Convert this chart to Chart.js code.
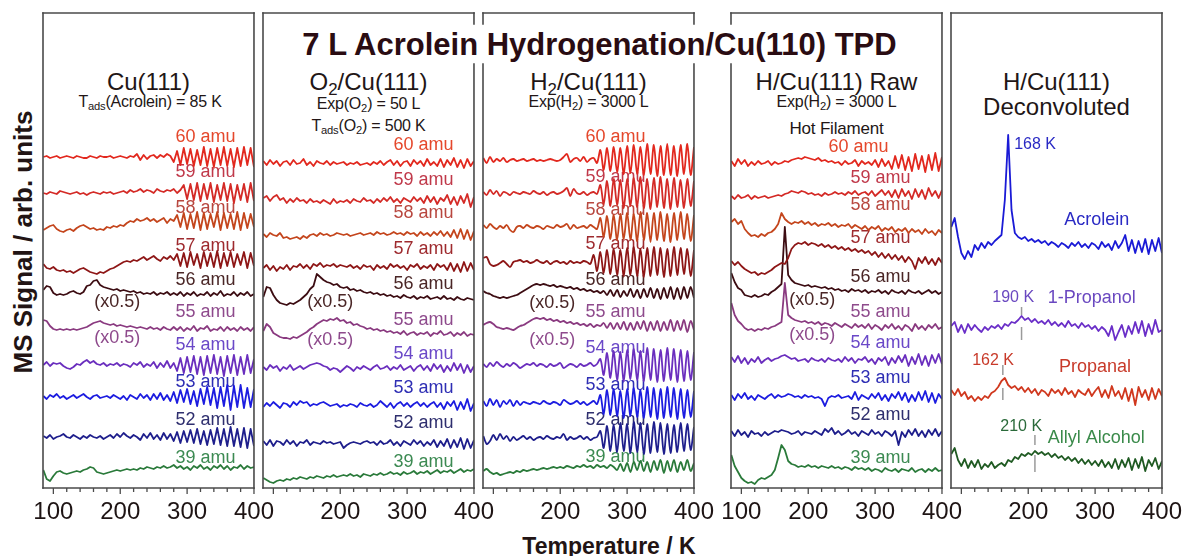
<!DOCTYPE html>
<html><head><meta charset="utf-8">
<script src="https://cdn.jsdelivr.net/npm/chart.js@4.4.1/dist/chart.umd.min.js"></script>
<style>
html,body{margin:0;padding:0;background:#fff;}
body{width:1182px;height:556px;position:relative;overflow:hidden;font-family:"Liberation Sans",Arial,Helvetica,sans-serif;color:#221616;}
canvas{position:absolute;top:0;}
.t{position:absolute;white-space:nowrap;transform:translateX(-50%);line-height:1;}
.pt{font-size:24px;}
.st{font-size:16px;letter-spacing:-0.2px;}
sub{font-size:0.7em;vertical-align:-0.3em;line-height:0;}
#title{font-weight:bold;font-size:31px;color:#2a0c12;}
#xlab{font-weight:bold;font-size:23px;color:#221414;}
#ylab{position:absolute;width:340px;left:-147px;top:229px;text-align:center;font-weight:bold;font-size:26px;line-height:26px;transform:rotate(-90deg);color:#221414;white-space:nowrap;}
</style></head>
<body>
<div class="t" id="title" style="left:599.5px;top:28.5px">7 L Acrolein Hydrogenation/Cu(110) TPD</div>
<div id="ylab">MS Signal / arb. units</div>
<div class="t" id="xlab" style="left:609px;top:534.5px">Temperature / K</div>

<div class="t pt" style="left:148.5px;top:70px">Cu(111)</div>
<div class="t st" style="left:150px;top:94px">T<sub>ads</sub>(Acrolein) = 85 K</div>
<div class="t pt" style="left:368.5px;top:70px">O<sub>2</sub>/Cu(111)</div>
<div class="t st" style="left:368.5px;top:96px">Exp(O<sub>2</sub>) = 50 L</div>
<div class="t st" style="left:368.5px;top:118px">T<sub>ads</sub>(O<sub>2</sub>) = 500 K</div>
<div class="t pt" style="left:588.5px;top:70px">H<sub>2</sub>/Cu(111)</div>
<div class="t st" style="left:588.5px;top:94px">Exp(H<sub>2</sub>) = 3000 L</div>
<div class="t pt" style="left:836.5px;top:70px">H/Cu(111) Raw</div>
<div class="t st" style="left:836.5px;top:94px">Exp(H<sub>2</sub>) = 3000 L</div>
<div class="t st" style="left:836.5px;top:119.5px;font-size:17px">Hot Filament</div>
<div class="t pt" style="left:1056.5px;top:70px">H/Cu(111)</div>
<div class="t pt" style="left:1056.5px;top:95px">Deconvoluted</div>

<canvas id="c0" width="271" height="530"></canvas>
<canvas id="c1" width="271" height="530"></canvas>
<canvas id="c2" width="271" height="530"></canvas>
<canvas id="c3" width="271" height="530"></canvas>
<canvas id="c4" width="271" height="530"></canvas>

<script>
// ---------------- DATA ----------------
const temps = [85,90,95,100,105,110,115,120,125,130,135,140,145,150,155,160,165,170,175,180,185,190,195,200,205,210,215,220,225,230,235,240,245,250,255,260,265,270,275,280,285,290,295,300,305,310,315,320,325,330,335,340,345,350,355,360,365,370,375,380,385,390,395,400];
const massLabels = ['60 amu','59 amu','58 amu','57 amu','56 amu','55 amu','54 amu','53 amu','52 amu','39 amu'];
const scaleNote = '(x0.5)';

// Cu(111)
const p1Base = [331,295,258,220,195,160,123,91,51,15];
const p1_60 = [0,1,-1,0,1,-1,0,1, 0,-1,1,0,-1,-1,1,0, -1,1,0,0,1,-1,0,1, 0,-1,1,0,3,-3,2,-2, 1,2,-1,2,0,3,1,-5, 6,-8,9,-7,8,-9,7,-8, 10,-9,8,-10,9,-8,10,-9, 8,-10,9,-9,10,-8,9,-10];
const p1_59 = [0,-1,1,0,-1,2,1,0, -1,0,1,-1,0,-2,0,1, 0,-1,1,0,1,-1,0,1, 2,0,3,1,2,4,1,3, 2,0,4,2,1,3,2,4, 0,3,8,-6,9,-7,10,-8, 9,-6,10,-9,8,-7,10,-8, 9,-10,8,-7,9,-9,10,-8];
const p1_58 = [0,2,4,5,1,-1,-2,0, 1,-1,2,4,5,3,1,2, 0,1,0,3,2,4,3,5, 4,7,9,8,11,9,10,12, 9,11,8,10,12,7,11,9, 15,3,17,1,16,2,18,0, 17,1,16,3,18,0,17,2, 16,1,18,0,17,2,16,3];
const p1_57 = [4,0,-1,1,-2,-3,-2,-4, -3,-5,-3,-1,0,-2,-4,-5, -6,-4,-5,-3,-1,0,2,4, 6,7,6,8,7,9,11,8, 10,12,9,7,11,9,12,8, 14,2,15,1,16,3,14,0, 16,2,15,1,17,0,15,2, 16,1,14,3,16,0,15,2];
const p1_56 = [3,7,6,0,-2,-1,-2,-1, 1,2,0,-1,1,7,8,12, 13,8,6,5,4,3,4,2, 3,2,1,2,0,1,-1,0, -1,1,-2,0,-1,1,-2,0, -2,1,-3,0,-2,1,-3,-1, -2,1,-3,0,-2,2,-3,-1, -2,1,-3,0,-2,1,-3,-1];
const p1_55 = [8,7,2,-1,-2,-1,-2,-1, -2,-1,-2,-1,0,1,3,5, 6,7,5,4,3,4,2,3, 2,1,2,1,0,1,0,-1, 1,-1,0,-2,1,-1,-2,1, -2,1,-3,0,-2,2,-3,0, -1,2,-3,-1,-2,1,-3,1, -2,0,-3,1,-2,0,-3,1];
const p1_54 = [0,3,-1,2,1,2,-1,-3, -4,-2,1,0,3,5,2,4, 1,0,2,-1,1,0,2,-1, 1,0,-2,2,0,3,-2,1, -1,3,-3,2,-2,4,-3,2, -6,7,-8,8,-7,9,-9,8, -10,9,-8,10,-9,8,-11,9, -8,10,-10,8,-9,10,-8,6];
const p1_53 = [1,-2,2,0,3,-1,1,-2, 0,2,-1,1,3,0,-2,1, 2,-1,0,1,-1,2,0,-2, 1,-3,2,0,-2,3,-1,2, -3,3,-2,4,-3,2,-4,5, -6,7,-5,8,-7,6,-9,8, -7,10,-8,9,-11,10,-9,12, -13,11,-10,12,-11,9,-10,8];
const p1_52 = [1,-1,2,-2,0,1,3,0, -1,2,0,-2,1,-1,2,0, -1,1,-2,0,2,-1,3,0, 4,1,-1,2,0,-3,3,-1, 4,-2,2,-3,4,-2,3,-4, 5,-6,6,-5,7,-6,8,-7, 6,-8,7,-7,9,-8,8,-9, 10,-9,8,-10,9,-11,8,-9];
const p1_39 = [3,-6,-8,-3,1,2,0,-1, 0,1,2,1,3,4,6,5, 1,0,-1,0,1,2,3,2, 3,4,3,4,3,5,4,6, 5,4,6,5,7,5,6,8, 5,7,4,6,3,7,5,8, 4,6,3,7,5,8,4,7, 3,6,5,8,4,7,5,6];

// O2/Cu(111)
const p2Base = [325,288,253,220,191,155,120,83,45,10];
const p2_60 = [2,-2,3,-1,2,-3,1,2, -2,3,-1,0,4,-2,1,-3, 2,0,-1,2,-2,1,-1,0, 1,-2,0,-1,1,-2,-1,0, -2,1,-1,2,-2,1,3,-2, 2,-3,1,2,-3,3,-1,2, -3,4,-2,1,-3,4,-4,3, -2,5,-4,3,-5,4,-3,2];
const p2_59 = [2,4,-1,3,5,0,2,-3, 1,-2,2,-1,0,-3,1,-2, -1,-3,0,-2,-4,1,-3,-1, -2,0,-3,1,-1,-2,2,-1, 0,-3,1,-2,2,-1,3,-2, 1,-3,2,0,-2,3,-1,2, -3,4,-2,3,-4,2,-1,5, -4,3,-5,4,-3,6,-7,3];
const p2_58 = [1,-2,2,0,-1,2,-3,-2, -4,-3,-2,-4,-1,-3,0,1, -1,2,0,1,-1,0,2,1, 0,1,-1,0,1,2,0,1, 2,0,3,1,2,0,1,3, 1,2,0,3,1,2,-1,3, 0,2,-1,3,0,4,-1,3, -2,5,-3,6,-4,5,-5,4];
const p2_57 = [0,3,-2,2,-3,1,-1,3, -2,2,1,4,0,3,-1,4, 2,5,1,3,2,4,1,3, 2,1,3,0,2,-1,3,1, 2,-2,3,0,2,-1,4,1, 3,0,2,-2,3,1,4,-1, 2,0,3,-2,4,1,3,-2, 5,-3,4,-4,6,-3,5,-2];
const p2_56 = [0,10,9,2,-3,-6,-7,-8, -6,-7,-5,-3,0,3,8,11, 23,20,17,15,14,12,13,10, 9,10,7,8,6,7,5,4, 5,3,4,2,3,1,2,0, 1,-1,2,0,-1,1,-2,0, -1,1,-2,-1,0,-2,1,-2, -1,-3,0,-2,-3,-1,-2,-3];
const p2_55 = [2,9,6,0,-2,-4,-5,-5, -6,-4,-5,-3,-1,1,4,6, 9,11,13,12,14,13,15,12, 13,10,11,8,9,7,6,4, 5,3,4,2,3,1,2,0, 1,-1,2,-2,0,1,-2,0, -1,1,-3,0,-1,2,-2,-1, 1,-3,0,-2,1,-3,-1,-2];
const p2_54 = [1,-2,3,0,2,-3,1,-1, 3,-2,0,2,-1,1,3,4, 5,4,2,1,-2,0,-1,-4, -1,2,0,-3,1,-1,2,0, -2,1,3,-1,0,2,-2,1, -1,3,-2,0,2,-3,1,3, -2,2,-3,4,-1,3,-4,2, -3,5,-2,4,-5,3,-4,2];
const p2_53 = [-2,2,-1,3,0,-3,2,1, -2,3,0,4,2,3,-1,1, 0,2,3,1,-1,0,1,-2, 0,-1,1,0,-2,2,0,-1, 1,-2,0,4,1,-2,2,-3, 1,3,-1,2,-2,1,3,-1, 2,-2,1,3,-2,2,-4,3, -1,4,-5,3,-4,6,-6,2];
const p2_52 = [2,-2,3,-3,2,1,-2,3, -1,2,-3,1,0,3,-2,1, 0,-1,2,0,1,-1,0,1, -5,-2,0,1,0,-1,1,2, 0,1,-2,2,-1,0,3,-2, 1,-3,2,0,-2,3,-1,2, -3,1,-2,3,-4,2,-3,4, -5,3,-4,5,-6,4,-5,3];
const p2_39 = [0,-2,-4,-5,-3,-2,-3,-1, -2,0,-1,1,0,-1,1,0, 2,1,0,2,1,3,1,2, 3,2,4,2,3,1,4,3, 2,4,3,5,3,4,6,4, 5,3,6,4,5,7,4,6, 5,7,4,6,8,5,7,6, 8,5,7,9,6,8,7,9];

// H2/Cu(111)
const p3Base = [328,295,261,226,195,163,123,85,50,16];
const p3_60 = [2,-3,3,-2,1,-1,2,-2, 0,1,-1,0,1,-1,0,1, -1,0,-1,0,1,0,-1,0, 3,6,-2,1,2,-1,3,-2, 1,2,-3,10,-10,12,-11,13, -12,12,-14,14,-13,15,-14,13, -15,16,-14,15,-16,14,-15,16, -15,14,-16,15,-14,16,-15,13];
const p3_59 = [1,-2,3,-1,2,-3,1,0, -2,1,0,-1,1,0,-1,2, 0,-1,1,-2,0,1,-1,0, 2,5,-3,4,0,-1,1,-2, 0,1,-1,8,-11,12,-13,14, -12,13,-15,14,-13,15,-14,16, -15,14,-16,15,-14,16,-15,14, -16,15,-14,13,-15,14,-13,12];
const p3_58 = [2,-1,3,0,-2,1,-1,2, -3,-5,0,1,-1,2,0,-1, 1,0,-2,1,0,-1,2,0, 1,3,-2,2,-1,0,1,-1, 2,0,-2,9,-10,11,-12,12, -13,13,-12,14,-13,13,-14,15, -13,14,-15,14,-13,15,-14,13, -15,14,-13,15,-12,13,-14,12];
const p3_57 = [4,5,-2,-4,-3,-1,1,-2, -5,0,1,2,0,1,-1,0, 2,0,-1,1,-2,0,1,-1, 0,-2,1,-1,0,-1,1,0, -2,7,-9,10,-11,12,-12,13, -13,12,-14,14,-13,15,-14,13, -15,14,-14,15,-13,14,-15,13, -14,15,-13,14,-12,13,-14,12];
const p3_56 = [2,0,-1,-3,-4,-5,-4,-5, -4,-3,-2,0,2,4,6,8, 9,8,9,8,7,8,6,7, 6,5,6,4,5,3,4,2, 3,1,2,0,2,-2,3,-3, 3,-4,2,-3,4,-4,3,-5, 4,-4,5,-5,4,-6,5,-5, 6,-6,5,-6,6,-5,6,-5];
const p3_55 = [0,2,3,1,-2,-3,-4,-3, -4,-5,-3,-1,0,2,4,6, 7,6,7,5,6,4,5,3, 4,2,3,1,2,0,1,-1, 1,-2,0,-1,2,-3,2,-4, 2,-4,3,-5,2,-5,3,-4, 4,-6,3,-5,4,-6,3,-5, 5,-6,4,-5,5,-7,4,-5];
const p3_54 = [1,-2,2,-1,3,0,-2,1, -1,2,0,-3,-1,1,0,2, -1,1,0,-2,1,-1,0,2, -3,-1,1,0,-2,1,-1,0, 2,-1,1,6,-10,12,-13,14, -15,13,-16,15,-14,16,-15,14, -16,17,-15,16,-17,15,-16,17, -15,16,-17,15,-16,14,-15,13];
const p3_53 = [2,-3,4,-2,3,-4,2,-1, 3,-3,2,-2,1,0,-1,1, 0,-1,2,0,-1,1,0,-2, 3,1,-1,0,2,-1,1,-2, 0,2,-1,8,-11,13,-12,14, -13,12,-15,14,-13,15,-14,13, -15,16,-14,15,-16,14,-15,16, -14,15,-16,14,-15,13,-14,12];
const p3_52 = [2,-6,-3,3,-2,4,-1,2, -3,1,-2,0,2,-1,1,-2, 0,1,-1,2,0,-1,1,0, 4,-2,1,-1,0,2,-1,1, -2,0,1,7,-10,12,-13,13, -14,15,-13,14,-15,16,-14,15, -16,14,-15,16,-14,15,-16,14, -15,13,-14,15,-13,14,-12,11];
const p3_39 = [1,3,0,-2,-1,-3,-2,-1, 0,-1,1,0,2,1,2,3, 2,3,4,3,4,5,4,5, 4,6,5,4,6,5,7,5, 6,4,7,5,6,4,7,5, 2,8,1,9,0,10,2,11, 1,10,0,11,2,12,-1,11, 1,12,0,10,2,12,1,9];

// H/Cu(111) raw
const p4Base = [325,291,261,225,198,161,128,91,55,18];
const p4_60 = [2,-3,4,-1,3,-3,1,-2, 2,-1,0,2,-2,1,-1,0, 2,1,3,4,5,4,6,5, 4,3,5,2,3,1,2,0, 1,-2,2,-1,0,3,-3,2, -1,1,-2,3,-4,4,-3,2, -6,7,-5,8,-7,6,-8,9, -6,7,-9,8,-7,10,-8,6];
const p4_59 = [1,-2,2,-1,0,2,-2,1, -1,0,1,-1,0,1,2,1, 3,4,6,5,4,6,5,3, 4,2,3,1,4,2,3,5, 3,4,2,5,3,6,2,4, 5,2,6,1,4,7,2,6, 0,7,-1,8,1,6,-2,8, 0,7,-2,9,1,6,-1,7];
const p4_58 = [5,8,3,6,-2,-6,-9,-8, -10,-7,-9,-6,-5,-2,3,14, 8,5,3,5,4,6,3,5, 2,4,1,3,2,4,1,3, 0,2,1,3,-1,2,0,-2, 1,-3,0,-2,1,-4,-1,-3, 0,-5,-2,-4,-1,-6,-2,-5, -3,-7,-2,-6,-4,-8,-3,-6];
const p4_57 = [2,-2,1,-3,-6,-8,-10,-9, -12,-10,-11,-9,-7,-4,-2,0, -1,5,14,18,20,19,21,18, 20,19,17,19,16,18,15,17, 14,16,13,15,12,14,11,13, 10,12,8,11,6,10,5,9, 4,8,3,7,1,6,2,-6, 5,0,6,-1,4,-2,5,0];
const p4_56 = [17,8,2,0,-5,-6,-7,-5, -7,-6,-4,-5,-2,0,3,6, 63,15,10,7,6,5,4,5, 3,4,3,2,3,1,2,0, 1,-1,0,-2,1,-1,0,-2, 0,-3,-1,-2,0,-3,-1,-4, 0,-2,-3,-1,-4,0,-2,-3, -1,-4,-2,0,-3,-1,-4,-2];
const p4_55 = [24,12,6,3,-1,-3,-2,-4, -2,-3,-1,-2,0,1,3,5, 44,12,9,7,6,5,6,4, 5,3,5,2,4,3,1,4, 2,0,3,1,-1,3,0,2, -1,3,-2,2,0,-3,2,-1, 3,-2,1,-3,2,0,-4,3, -2,1,-3,2,-1,3,-2,0];
const p4_54 = [3,-2,4,-3,2,-4,1,-2, 3,-3,0,2,-1,1,2,4, 5,3,1,2,-1,0,1,-2, 2,0,-1,1,-2,2,0,-1, 1,-2,3,-1,2,-3,1,0, 3,-2,1,-4,2,-1,3,-5, 2,-3,4,-2,5,-6,3,-4, 6,-5,4,-6,5,-3,6,-4];
const p4_53 = [2,-3,3,-1,4,-2,1,-3, 2,0,-2,1,3,-1,2,0, 1,3,2,0,1,-1,2,0, 1,-1,0,-2,-9,-1,1,0, 2,-1,0,1,-2,5,-3,2, 0,-2,3,-1,4,-3,2,-4, 3,-1,5,-3,4,-5,2,-4, 5,-3,6,-5,4,-6,3,-2];
const p4_52 = [2,-3,3,-2,1,-4,2,-1, 0,-3,1,-2,0,2,1,3, 2,1,-1,0,2,-2,1,0, -1,2,0,-2,4,1,5,-1, 2,-2,0,3,-1,1,-3,2, 0,-2,3,-1,1,-3,2,0, -3,2,-12,1,-4,3,-2,4, -3,2,-4,3,-2,4,-3,2];
const p4_39 = [15,4,-2,-8,-11,-13,-12,-14, -10,-8,-9,-7,-5,0,12,25, 20,9,6,5,3,4,3,5, 3,4,2,4,3,2,4,2, 3,1,3,2,0,3,1,2, 0,2,-1,1,0,-2,2,0, -1,1,-2,1,0,-1,2,-2, 0,1,-2,1,-1,2,-1,0];

// H/Cu(111) deconvoluted
const p5Names = ['Acrolein','1-Propanol','Propanal','Allyl Alcohol'];
const p5Base = [243,160,95,26];
const acrolein = [18,27,8,-8,-14,-6,-12,0, -5,2,-3,3,0,4,7,10, 45,110,35,12,8,6,8,4, 6,3,5,2,4,0,3,1, -2,2,0,-3,2,-1,3,-2, 1,-3,2,0,-4,3,-2,1, -5,4,-3,2,10,-6,5,-8, 4,-7,6,-9,5,-6,7,-8];
const propanol = [2,6,-4,3,-5,4,-2,3, -1,-4,1,-2,2,0,3,-1, 4,2,6,5,8,12,8,10, 6,9,5,7,4,8,3,6, 2,5,1,7,2,4,0,5, 1,3,-1,2,-3,1,-2,-8, 2,-12,-4,3,-9,2,-6,6, -5,7,-8,4,-6,8,-4,-2];
const propanal = [3,-2,4,-3,1,-6,-3,-8, -4,-7,-3,-5,0,2,6,12, 15,8,5,7,3,6,1,5, 0,4,-2,3,1,-3,4,0, 3,-2,5,-1,2,-4,3,0, -2,4,-3,2,6,-4,3,-5, 7,-3,2,-6,5,-8,4,-12, 6,-4,3,-7,5,-6,4,-3];
const allylAlcohol = [8,14,2,-4,3,-6,1,-5, 2,-7,-2,-5,0,-6,-3,-1, -4,2,0,5,3,8,6,9, 7,11,8,10,7,9,5,8, 4,6,2,5,1,4,-1,3, -2,2,-3,1,-4,2,-5,0, -6,3,-7,2,-5,4,-8,3, -6,5,-9,2,-4,4,-7,1];
const acroleinPeakT = 168;
const peakTemps = [190, 162, 210];   // 1-Propanol, Propanal, Allyl Alcohol

// ---------------- STYLE / LAYOUT ----------------
const FONT = '"Liberation Sans", Arial, Helvetica, sans-serif';
const traceColors = ['#e2281e','#d42a26','#c4451c','#8e1616','#3c0c12','#8a3a80','#6a2ebe','#1c1ce0','#1e1e8c','#2a7a3a'];
const labelColors = ['#e5482c','#c0394a','#b8473f','#9e2a2e','#4a2626','#8e4a8c','#6a48c8','#2e2eb4','#2e2e6e','#3c8a52'];
const p5Colors = ['#1a1ad6','#6a2ec8','#d0381e','#1f5a22'];
const p5LabelColors = ['#2a2ac4','#6a48c0','#c83a2a','#3a8a4a'];
const p5PeakLabelColors = ['#2a2ac4','#6a48c0','#c83a2a','#2a6a3a'];
const panelLeft = [43, 263, 483, 731, 951];
const PADX = 30;
const GAP = [24, 64];
const LINEW = 1.8;

function framePlugin(gapL, gapR) {
  return {
    id: 'frame',
    afterDraw(chart) {
      const {ctx, chartArea: a} = chart;
      const xs = chart.scales.x;
      ctx.save();
      ctx.strokeStyle = '#4a4a4a';
      ctx.lineWidth = 1.6;
      ctx.lineCap = 'square';
      const seg = (x1, y1, x2, y2) => { ctx.beginPath(); ctx.moveTo(x1, y1); ctx.lineTo(x2, y2); ctx.stroke(); };
      seg(a.left, a.top, a.right, a.top);
      seg(a.left, a.bottom, a.right, a.bottom);
      const side = (x, g) => { if (g) { seg(x, a.top, x, g[0]); seg(x, g[1], x, a.bottom); } else seg(x, a.top, x, a.bottom); };
      side(a.left, gapL); side(a.right, gapR);
      ctx.lineWidth = 1.3; ctx.lineCap = 'butt';
      xs.ticks.forEach(t => {
        const px = xs.getPixelForValue(t.value);
        const len = t.value % 100 === 0 ? 6 : 4;
        seg(px, a.bottom, px, a.bottom + len);
      });
      ctx.restore();
    }
  };
}
function labelPlugin(items) {
  return {
    id: 'tlabels',
    beforeDatasetsDraw(chart) {
      const {ctx} = chart;
      const xs = chart.scales.x, ys = chart.scales.y;
      ctx.save();
      items.forEach(it => {
        ctx.font = (it.size || 18) + 'px ' + FONT;
        ctx.fillStyle = it.color;
        ctx.textAlign = it.align || 'right';
        ctx.textBaseline = 'middle';
        ctx.fillText(it.text, xs.getPixelForValue(it.x), ys.getPixelForValue(it.y));
      });
      ctx.restore();
    }
  };
}

function makeChart(idx, datasets, items, tickShown, gapL, gapR) {
  const cv = document.getElementById('c' + idx);
  cv.style.left = (panelLeft[idx] - PADX) + 'px';
  return new Chart(cv, {
    type: 'line',
    data: { datasets },
    options: {
      responsive: false, animation: false, events: [], devicePixelRatio: 1,
      layout: { padding: { left: PADX, right: PADX, top: 13, bottom: 0 } },
      plugins: { legend: { display: false }, tooltip: { enabled: false }, title: { display: false } },
      elements: { point: { radius: 0 }, line: { borderJoinStyle: 'round' } },
      scales: {
        x: {
          type: 'linear', min: 84.5, max: 400,
          afterFit(s) { s.height = 42; },
          grid: { display: false, drawTicks: false },
          border: { display: false },
          ticks: {
            stepSize: 20, autoSkip: false, includeBounds: false, maxRotation: 0, padding: 10,
            color: '#1e1414', font: { size: 24, family: FONT },
            callback: v => tickShown.includes(v) ? String(v) : ''
          }
        },
        y: { display: false, min: 0, max: 475 }
      }
    },
    plugins: [labelPlugin(items), framePlugin(gapL, gapR)]
  });
}

function traceSets(series, base, tension) {
  return series.map((arr, k) => ({
    data: temps.map((t, i) => ({ x: t, y: base[k] + arr[i] })),
    borderColor: traceColors[k], borderWidth: LINEW, tension: tension || 0, fill: false
  }));
}
function massItems(labelT, labelY, halfT, halfY, firstT) {
  const items = massLabels.map((txt, k) => ({ text: txt, x: (k === 0 && firstT) ? firstT : labelT, y: labelY[k], color: labelColors[k], align: 'right', size: 18 }));
  items.push({ text: scaleNote, x: halfT, y: halfY[0], color: labelColors[4], align: 'center', size: 18 });
  items.push({ text: scaleNote, x: halfT, y: halfY[1], color: labelColors[5], align: 'center', size: 18 });
  return items;
}

makeChart(0, traceSets([p1_60,p1_59,p1_58,p1_57,p1_56,p1_55,p1_54,p1_53,p1_52,p1_39], p1Base),
  massItems(372.5, [351,316,280,242,208,176,143,106,68,30], 195.5, [186,150]),
  [100,200,300,400], null, null);
makeChart(1, traceSets([p2_60,p2_59,p2_58,p2_57,p2_56,p2_55,p2_54,p2_53,p2_52,p2_39], p2Base),
  massItems(369.5, [343,308,275,239,204,168,134,100,65,26], 185, [186,148]),
  [200,300,400], null, GAP);
makeChart(2, traceSets([p3_60,p3_59,p3_58,p3_57,p3_56,p3_55,p3_54,p3_53,p3_52,p3_39], p3Base, 0.3),
  massItems(327.5, [351,311,278,244,208,176,140,103,68,31], 188, [185,148]),
  [200,300,400], GAP, GAP);
makeChart(3, traceSets([p4_60,p4_59,p4_58,p4_57,p4_56,p4_55,p4_54,p4_53,p4_52,p4_39], p4Base),
  massItems(353, [341,310,283,250,211,176,145,110,73,30], 206, [188,153], 320),
  [100,200,300,400], GAP, null);

// panel 5
const p5Series = [acrolein, propanol, propanal, allylAlcohol];
const p5Sets = p5Series.map((arr, k) => ({
  data: temps.map((t, i) => ({ x: t, y: p5Base[k] + arr[i] })),
  borderColor: p5Colors[k], borderWidth: LINEW, fill: false
}));
const markerSpans = [[173,181,148,161],[113,123,88,100],[43,53,16,33]];
peakTemps.forEach((t, k) => {
  const s = markerSpans[k];
  p5Sets.push({ data: [{x: t, y: s[0]}, {x: t, y: s[1]}], borderColor: '#9a9a9a', borderWidth: 1.5, fill: false });
  p5Sets.push({ data: [{x: t, y: s[2]}, {x: t, y: s[3]}], borderColor: '#9a9a9a', borderWidth: 1.5, fill: false });
});
const p5Items = [
  { text: acroleinPeakT + ' K', x: 179, y: 343, color: p5PeakLabelColors[0], align: 'left', size: 16 },
  { text: p5Names[0], x: 254, y: 268, color: p5LabelColors[0], align: 'left', size: 18 },
  { text: peakTemps[0] + ' K', x: 177.5, y: 190, color: p5PeakLabelColors[1], align: 'center', size: 16 },
  { text: p5Names[1], x: 229, y: 190, color: p5LabelColors[1], align: 'left', size: 18 },
  { text: peakTemps[1] + ' K', x: 147.5, y: 127, color: p5PeakLabelColors[2], align: 'center', size: 16 },
  { text: p5Names[2], x: 246, y: 121, color: p5LabelColors[2], align: 'left', size: 18 },
  { text: peakTemps[2] + ' K', x: 189.5, y: 61, color: p5PeakLabelColors[3], align: 'center', size: 16 },
  { text: p5Names[3], x: 229, y: 50, color: p5LabelColors[3], align: 'left', size: 18 }
];
makeChart(4, p5Sets, p5Items, [200,300,400], null, null);
</script>
</body></html>
